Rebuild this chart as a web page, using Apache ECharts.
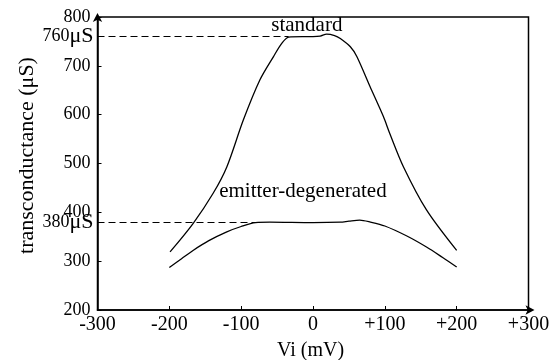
<!DOCTYPE html>
<html>
<head>
<meta charset="utf-8">
<script src="https://cdn.jsdelivr.net/npm/echarts@6/dist/echarts.min.js"></script>
<style>
  html, body { margin: 0; padding: 0; background: #fff; }
  #chart { width: 549px; height: 360px; }
</style>
</head>
<body>
<div id="chart"></div>
<script>
// Vi (mV) vs transconductance (uS)
const standardX = [-199, -167, -139, -120, -97, -74, -55, -43.5, -34, -15, 0, 10, 19, 30, 38, 52, 61, 79.5, 98, 107, 126, 158, 200];
const standardY = [319, 377, 439, 493, 589, 671, 719, 746, 759, 760, 760, 761, 765, 762, 756, 739, 719, 657, 596, 561, 493, 405, 322];

const emitterX = [-200, -183, -167, -145, -120, -100, -80, -60, 0, 38, 50, 65, 80, 100, 130, 158, 180, 200];
const emitterY = [287, 305, 322, 342, 360, 371, 379, 380, 379, 380, 382, 384, 380, 372, 352, 329, 308, 288];

const refLevels = [760, 380];
const refEnds = [-34, -80];
const refValues = ["760", "380"];

const serif = "Liberation Serif";

const chart = echarts.init(document.getElementById("chart"));

const pairs = (xs, ys) => xs.map((x, i) => [x, ys[i]]);

function refLine(i) {
  return {
    silent: true,
    symbol: "none",
    lineStyle: { color: "#000", width: 1.2, type: [7, 4] },
    label: {
      show: true, position: "start", distance: 4,
      fontFamily: serif, fontSize: 18, color: "#000",
      formatter: refValues[i] + "{u|μS}",
      rich: { u: { fontFamily: serif, fontSize: 22, color: "#000" } }
    },
    data: [[{ coord: [-300, refLevels[i]] }, { coord: [refEnds[i], refLevels[i]] }]]
  };
}

function note(text, x, y) {
  return {
    symbol: "circle", symbolSize: 1,
    itemStyle: { color: "rgba(0,0,0,0)" },
    label: { show: true, position: "inside", fontFamily: serif, fontSize: 21, color: "#000", formatter: text },
    data: [{ coord: [x, y] }]
  };
}

chart.setOption({
  animation: false,
  grid: {
    left: 97.5, right: 20.5, top: 17, bottom: 50,
    outerBoundsMode: "none",
    containLabel: false,
    show: true, borderColor: "#000", borderWidth: 1.5
  },
  xAxis: {
    type: "value",
    min: -300, max: 300, interval: 100,
    name: "Vi (mV)",
    nameLocation: "middle",
    nameGap: 31,
    nameTextStyle: { fontFamily: serif, fontSize: 20, color: "#000", padding: [0, 5, 0, 0] },
    axisLine: { onZero: false, lineStyle: { color: "#000", width: 1.5 }, symbol: ["none", "arrow"], symbolSize: [7, 9], symbolOffset: [0, 6] },
    axisTick: { inside: true, length: 4, lineStyle: { color: "#000" } },
    axisLabel: {
      fontFamily: serif, fontSize: 20, color: "#000", margin: 5,
      formatter: v => (v > 0 ? "+" + v : String(v))
    },
    splitLine: { show: false }
  },
  yAxis: {
    type: "value",
    min: 200, max: 800, interval: 100,
    name: "transconductance (μS)",
    nameLocation: "middle",
    nameRotate: 90,
    nameGap: 59,
    nameTextStyle: { fontFamily: serif, fontSize: 22, color: "#000", padding: [0, 0, 0, 16] },
    axisLine: { onZero: false, lineStyle: { color: "#000", width: 1.5 }, symbol: ["none", "arrow"], symbolSize: [7, 9], symbolOffset: [0, 4] },
    axisTick: { inside: true, length: 4, lineStyle: { color: "#000" } },
    axisLabel: { fontFamily: serif, fontSize: 18, color: "#000", margin: 7 },
    splitLine: { show: false }
  },
  series: [
    {
      name: "standard",
      type: "line",
      smooth: 0.3,
      symbol: "none",
      data: pairs(standardX, standardY),
      lineStyle: { color: "#000", width: 1.3 },
      markLine: refLine(0),
      markPoint: note("standard", -8.6, 782)
    },
    {
      name: "emitter-degenerated",
      type: "line",
      smooth: 0.3,
      symbol: "none",
      data: pairs(emitterX, emitterY),
      lineStyle: { color: "#000", width: 1.3 },
      markLine: refLine(1),
      markPoint: note("emitter-degenerated", -14, 442)
    }
  ]
});
</script>
</body>
</html>
